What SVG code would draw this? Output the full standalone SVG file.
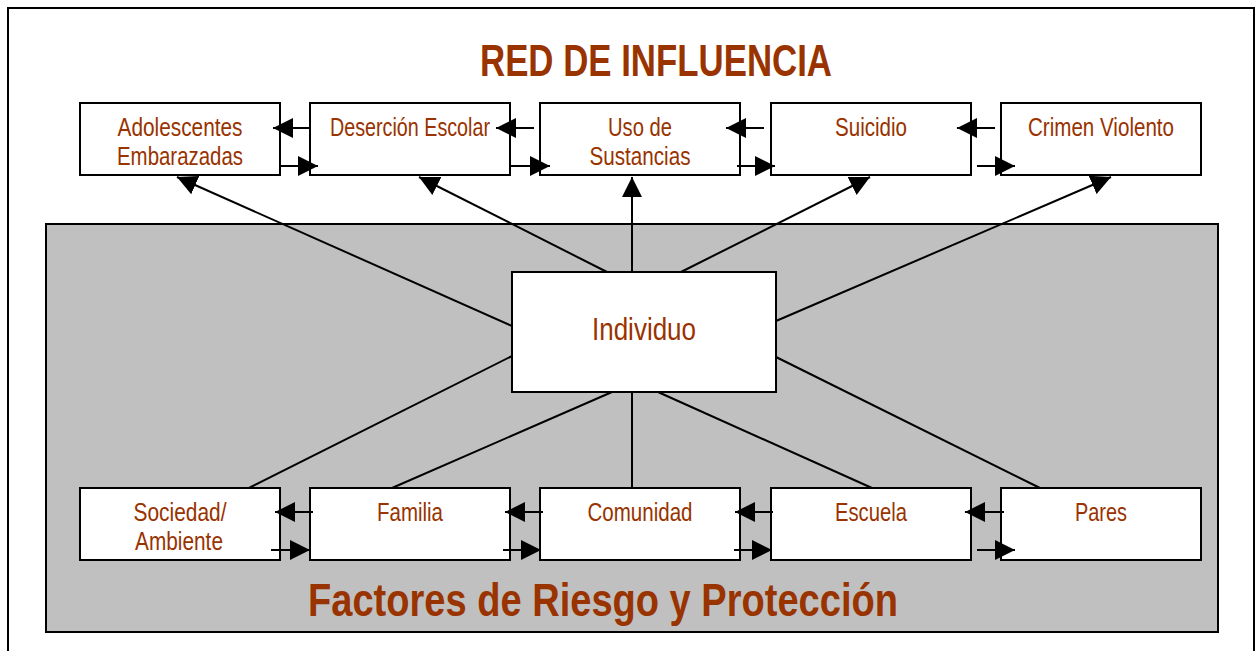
<svg xmlns="http://www.w3.org/2000/svg" width="1259" height="651" viewBox="0 0 1259 651">
<style>
.box{fill:#fff;stroke:#000;stroke-width:2}
.lbl{font-family:"Liberation Sans Narrow","Liberation Sans",Arial,sans-serif;font-size:25px;fill:#993300;text-anchor:middle}
.big{font-size:32px}
.ttl{font-family:"Liberation Sans Narrow","Liberation Sans",Arial,sans-serif;font-weight:bold;fill:#993300;text-anchor:middle}
.ln{stroke:#000;stroke-width:2;fill:none}
.ar{stroke:#000;stroke-width:2;fill:none;marker-end:url(#ah)}
</style>
<defs>
<marker id="ah" markerUnits="userSpaceOnUse" markerWidth="20" markerHeight="20" refX="20" refY="10" orient="auto" viewBox="0 0 20 20">
<path d="M0,0 L20,10 L0,20 z" fill="#000"/>
</marker>
</defs>
<rect x="8" y="8" width="1246" height="670" fill="#fff" stroke="#000" stroke-width="2"/>
<text class="ttl" x="656" y="76" font-size="44" textLength="352" lengthAdjust="spacingAndGlyphs">RED DE INFLUENCIA</text>
<g id="panel">
<rect x="46" y="224" width="1172" height="408" fill="#c0c0c0" stroke="#000" stroke-width="2"/>
<text class="ttl" x="603" y="616" font-size="46" textLength="590" lengthAdjust="spacingAndGlyphs">Factores de Riesgo y Protección</text>
</g>
<g id="connectors">
<line class="ar" x1="512" y1="326" x2="177" y2="177"/>
<line class="ar" x1="607" y1="272" x2="419" y2="177"/>
<line class="ar" x1="632" y1="272" x2="632" y2="177"/>
<line class="ar" x1="681" y1="272" x2="870" y2="177"/>
<line class="ar" x1="776" y1="321" x2="1111" y2="177"/>
<line class="ln" x1="512" y1="356" x2="249" y2="488"/>
<line class="ln" x1="612" y1="392" x2="392" y2="488"/>
<line class="ln" x1="632" y1="392" x2="632" y2="488"/>
<line class="ln" x1="658" y1="392" x2="872" y2="488"/>
<line class="ln" x1="776" y1="357" x2="1040" y2="488"/>
</g>
<g id="n-adolescentes"><rect class="box" x="80" y="103" width="200" height="72"/>
<text class="lbl" x="180" y="136" textLength="125" lengthAdjust="spacingAndGlyphs">Adolescentes</text>
<text class="lbl" x="180" y="165" textLength="126" lengthAdjust="spacingAndGlyphs">Embarazadas</text></g>
<g id="n-desercion"><rect class="box" x="310" y="103" width="200" height="72"/>
<text class="lbl" x="410" y="136" textLength="160" lengthAdjust="spacingAndGlyphs">Deserción Escolar</text></g>
<g id="n-uso"><rect class="box" x="540" y="103" width="200" height="72"/>
<text class="lbl" x="640" y="136" textLength="64" lengthAdjust="spacingAndGlyphs">Uso de</text>
<text class="lbl" x="640" y="165" textLength="101" lengthAdjust="spacingAndGlyphs">Sustancias</text></g>
<g id="n-suicidio"><rect class="box" x="771" y="103" width="200" height="72"/>
<text class="lbl" x="871" y="136" textLength="72" lengthAdjust="spacingAndGlyphs">Suicidio</text></g>
<g id="n-crimen"><rect class="box" x="1001" y="103" width="200" height="72"/>
<text class="lbl" x="1101" y="136" textLength="146" lengthAdjust="spacingAndGlyphs">Crimen Violento</text></g>
<g id="n-individuo"><rect class="box" x="512" y="272" width="264" height="120"/>
<text class="lbl big" x="644" y="340" textLength="104" lengthAdjust="spacingAndGlyphs">Individuo</text></g>
<g id="n-sociedad"><rect class="box" x="80" y="488" width="200" height="72"/>
<text class="lbl" x="180" y="521" textLength="93" lengthAdjust="spacingAndGlyphs">Sociedad/</text>
<text class="lbl" x="179" y="550" textLength="88" lengthAdjust="spacingAndGlyphs">Ambiente</text></g>
<g id="n-familia"><rect class="box" x="310" y="488" width="200" height="72"/>
<text class="lbl" x="410" y="521" textLength="66" lengthAdjust="spacingAndGlyphs">Familia</text></g>
<g id="n-comunidad"><rect class="box" x="540" y="488" width="200" height="72"/>
<text class="lbl" x="640" y="521" textLength="105" lengthAdjust="spacingAndGlyphs">Comunidad</text></g>
<g id="n-escuela"><rect class="box" x="771" y="488" width="200" height="72"/>
<text class="lbl" x="871" y="521" textLength="72" lengthAdjust="spacingAndGlyphs">Escuela</text></g>
<g id="n-pares"><rect class="box" x="1001" y="488" width="200" height="72"/>
<text class="lbl" x="1101" y="521" textLength="52" lengthAdjust="spacingAndGlyphs">Pares</text></g>
<g id="side-arrows">
<line class="ar" x1="310" y1="128" x2="273" y2="128"/>
<line class="ar" x1="281" y1="166" x2="318" y2="166"/>
<line class="ar" x1="534" y1="128" x2="496" y2="128"/>
<line class="ar" x1="511" y1="166" x2="550" y2="166"/>
<line class="ar" x1="764" y1="128" x2="726" y2="128"/>
<line class="ar" x1="737" y1="166" x2="775" y2="166"/>
<line class="ar" x1="995" y1="128" x2="957" y2="128"/>
<line class="ar" x1="977" y1="166" x2="1015" y2="166"/>
<line class="ar" x1="313" y1="512" x2="275" y2="512"/>
<line class="ar" x1="271" y1="550" x2="310" y2="550"/>
<line class="ar" x1="543" y1="512" x2="505" y2="512"/>
<line class="ar" x1="503" y1="550" x2="541" y2="550"/>
<line class="ar" x1="773" y1="512" x2="735" y2="512"/>
<line class="ar" x1="734" y1="550" x2="772" y2="550"/>
<line class="ar" x1="1004" y1="512" x2="965" y2="512"/>
<line class="ar" x1="977" y1="550" x2="1015" y2="550"/>
</g>
</svg>
